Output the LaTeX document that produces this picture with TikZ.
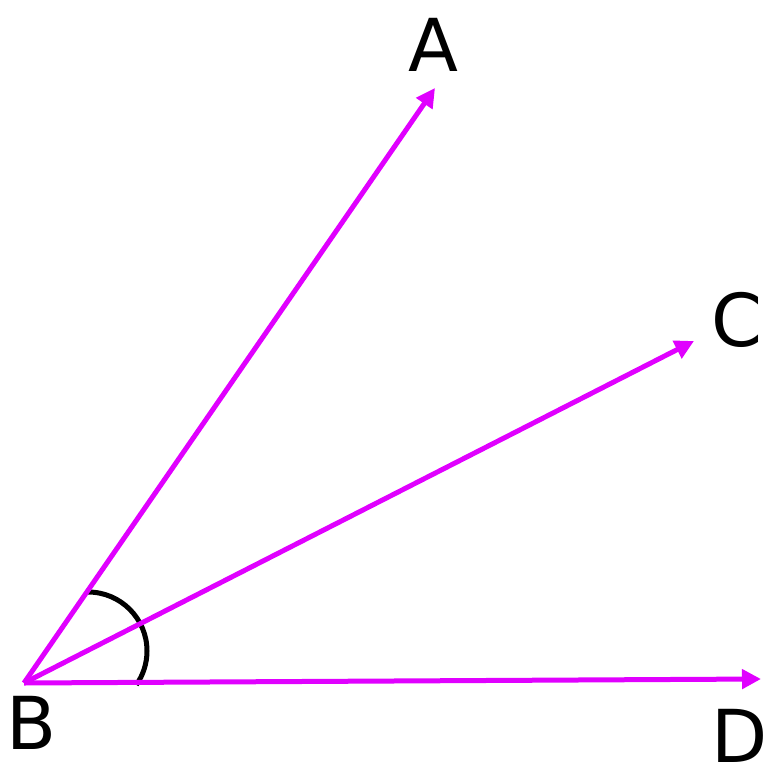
\documentclass[tikz,border=0pt]{standalone}
\usepackage{fontspec}
\setmainfont{DejaVu Sans}
\usetikzlibrary{arrows.meta,positioning}
\definecolor{mymagenta}{RGB}{224,0,255}

\begin{document}
\begin{tikzpicture}[
  x=1pt,y=-1pt,
  ray/.style={
    draw=mymagenta,
    line width=5pt,
    -{Triangle[length=19pt,width=19pt]}
    },
  anglemark/.style={
    draw=black,
    line width=5pt
    },
  pointlabel/.style={
    font=\fontsize{73}{80}\selectfont,
    inner sep=0pt
    }
]
\useasboundingbox (0,0) rectangle (777,779);
\coordinate (B) at (24,683);
\coordinate (tipA) at (435,88);
\coordinate (tipC) at (694,341);
\coordinate (tipD) at (761,679);
% angle mark
\coordinate (arcstart) at (88,592);
\draw[anglemark] (arcstart) arc[start angle=-90,end angle=35,radius=59];
% rays
\draw[ray] (B) -- (tipA);
\draw[ray] (B) -- (tipC);
\draw[ray] (B) -- (tipD);
% labels
\node[pointlabel] (labA) at (433,45) {A};
\node[pointlabel] (labB) at (32,723) {B};
\node[pointlabel] (labC) at (737,320) {C};
\node[pointlabel] (labD) at (740,736) {D};
\end{tikzpicture}
\end{document}
